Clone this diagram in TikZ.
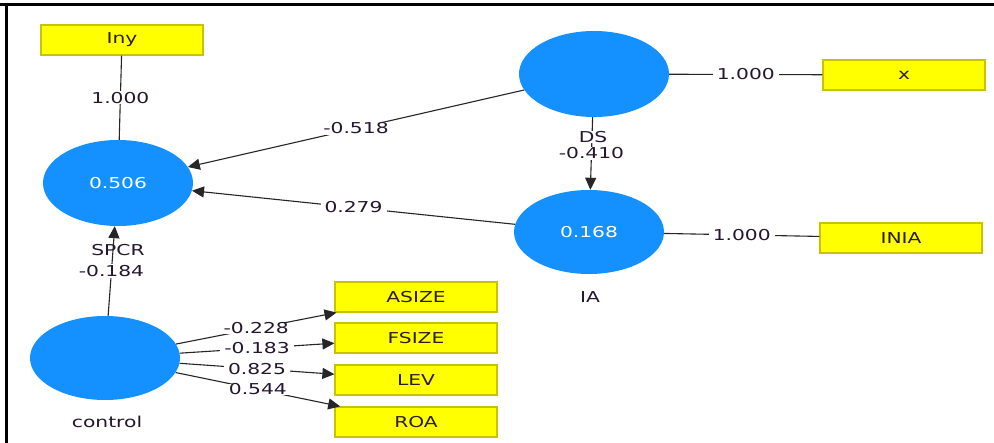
\documentclass[tikz,border=0pt]{standalone}
\usepackage{fontspec}
\setmainfont{DejaVu Sans}[FakeStretch=1.35]
\usetikzlibrary{shapes.geometric,arrows.meta}
\definecolor{lv}{HTML}{1491FF}
\definecolor{mv}{HTML}{FFFF00}
\definecolor{mvb}{HTML}{C8C200}
\definecolor{txt}{HTML}{24162E}
\definecolor{boxtxt}{HTML}{2A1E0C}
\begin{document}
\begin{tikzpicture}[x=1pt,y=-1pt,
  lat/.style={ellipse,fill=lv,minimum width=150pt,minimum height=86pt,inner sep=0pt,text=white,font=\fontsize{15}{15}\selectfont},
  ind/.style={rectangle,fill=mv,draw=mvb,line width=1.2pt,minimum width=162pt,minimum height=30pt,inner sep=0pt,text=boxtxt,font=\fontsize{15}{15}\selectfont},
  coef/.style={fill=white,inner xsep=4pt,inner ysep=1pt,text=txt,font=\fontsize{15}{15}\selectfont},
  lbl/.style={text=txt,inner sep=1pt,font=\fontsize{15}{15}\selectfont},
  edge/.style={draw=black!85,line width=1.1pt},
  arr/.style={edge,-{Triangle[length=12pt,width=11pt]}}
]
\useasboundingbox (0,0) rectangle (994,443);
\fill[white] (0,0) rectangle (994,443);
% frame
\draw[line width=3pt] (0,4.5) -- (994,4.5);
\draw[line width=3pt] (6,3) -- (6,443);

% latent variables
\node[lat] (SPCR) at (118,183) {0.506};
\node[lat] (DS) at (594,74) {};
\node[lat,minimum height=84pt] (IA) at (589,232) {0.168};
\node[lat,minimum height=84pt] (CTRL) at (105,358) {};

% indicators
\node[ind] (Iny) at (122,40) {Iny};
\node[ind] (X) at (904,75) {x};
\node[ind] (INIA) at (901,238) {INIA};
\node[ind] (ASIZE) at (416,297) {ASIZE};
\node[ind] (FSIZE) at (416,338) {FSIZE};
\node[ind] (LEV) at (416,380) {LEV};
\node[ind] (ROA) at (416,422) {ROA};

% names under latent variables
\node[lbl] (nSPCR) at (118,250) {SPCR};
\node[lbl] (nIA) at (590,297) {IA};
\node[lbl] (nCTRL) at (107,422) {control};

% outer model
\draw[edge] (Iny) -- node[coef] {1.000} (SPCR);
\draw[edge] (DS) -- node[coef] {1.000} (X);
\draw[edge] (IA) -- node[coef] {1.000} (INIA);

% inner model
\draw[arr] (DS) -- node[coef] {-0.518} (SPCR);
\draw[arr] (IA) -- node[coef] {0.279} (SPCR);
\draw[arr] (DS) -- node[coef,pos=0.5] {-0.410} (IA);
\node[lbl,fill=white,inner ysep=0pt] (nDS) at (593,137) {DS};
\draw[arr] (CTRL) -- node[coef,pos=0.5] {-0.184} (SPCR);

% control indicators
\draw[arr] (CTRL) -- node[coef,pos=0.5,inner ysep=0pt] {-0.228} (ASIZE);
\draw[arr] (CTRL) -- node[coef,pos=0.5,inner ysep=0pt] {-0.183} (FSIZE);
\draw[arr] (CTRL) -- node[coef,pos=0.5,inner ysep=0pt] {0.825} (LEV);
\draw[arr] (CTRL) -- node[coef,pos=0.5,inner ysep=0pt] {0.544} (ROA);
\end{tikzpicture}
\end{document}
